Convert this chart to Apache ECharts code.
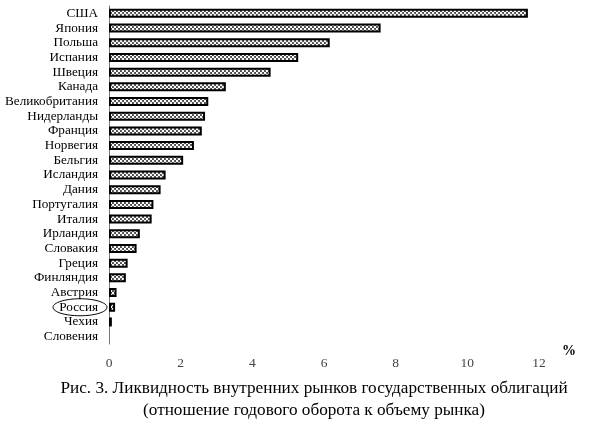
<!DOCTYPE html>
<html>
<head>
<meta charset="utf-8">
<script src="https://cdn.jsdelivr.net/npm/echarts@6/dist/echarts.min.js"></script>
<style>
  html, body { margin: 0; padding: 0; background: #fff; }
  #main { width: 595px; height: 424px; }
</style>
</head>
<body>
<div id="main"></div>
<script>
var countries = ['США', 'Япония', 'Польша', 'Испания', 'Швеция', 'Канада', 'Великобритания',
    'Нидерланды', 'Франция', 'Норвегия', 'Бельгия', 'Исландия', 'Дания', 'Португалия',
    'Италия', 'Ирландия', 'Словакия', 'Греция', 'Финляндия', 'Австрия', 'Россия', 'Чехия', 'Словения'];
var turnover = [11.69, 7.58, 6.16, 5.28, 4.51, 3.26, 2.77, 2.68, 2.59, 2.37, 2.07, 1.58, 1.44,
    1.24, 1.19, 0.86, 0.77, 0.52, 0.47, 0.21, 0.17, 0.08, 0];
var xTicks = [0, 2, 4, 6, 8, 10, 12];
var caption = 'Рис. 3. Ликвидность внутренних рынков государственных облигаций\n(отношение годового оборота к объему рынка)';

// точечная штриховка столбиков
var dots = document.createElement('canvas');
dots.width = 4;
dots.height = 4;
var ctx = dots.getContext('2d');
ctx.fillStyle = '#4a4a4a';
ctx.fillRect(0, 0, 4, 4);
ctx.fillStyle = '#ffffff';
ctx.beginPath();
ctx.arc(1, 1, 1.2, 0, Math.PI * 2);
ctx.fill();
ctx.beginPath();
ctx.arc(3, 3, 1.2, 0, Math.PI * 2);
ctx.fill();

var myChart = echarts.init(document.getElementById('main'));
var serif = '"Liberation Serif", "Times New Roman", serif';

option = {
    animation: false,
    textStyle: {fontFamily: serif},
    title: {
        text: caption,
        left: 309,
        top: 372,
        textAlign: 'center',
        textStyle: {
            fontFamily: serif,
            fontSize: 17.2,
            fontWeight: 'normal',
            color: '#000',
            lineHeight: 22
        }
    },
    grid: {
        left: 109,
        right: 56,
        top: 6,
        bottom: 80
    },
    xAxis: {
        type: 'value',
        min: xTicks[0],
        max: xTicks[xTicks.length - 1],
        interval: 2,
        name: '%',
        nameLocation: 'end',
        nameGap: 23,
        nameTextStyle: {
            fontFamily: serif,
            fontSize: 14,
            fontWeight: 'bold',
            color: '#000',
            verticalAlign: 'top',
            lineHeight: 14
        },
        splitLine: {show: false},
        axisLine: {lineStyle: {color: '#777', width: 1}},
        axisTick: {length: 4, lineStyle: {color: '#777'}},
        axisLabel: {
            margin: 12,
            fontSize: 13.5,
            color: '#444',
            fontFamily: serif
        }
    },
    yAxis: {
        type: 'category',
        inverse: true,
        data: countries,
        axisLine: {lineStyle: {color: '#777', width: 1}},
        axisTick: {length: 3, lineStyle: {color: '#777'}},
        axisLabel: {
            interval: 0,
            margin: 11,
            fontSize: 13.2,
            color: '#000',
            fontFamily: serif
        }
    },
    series: [
        {
            type: 'bar',
            data: turnover.map(function (v) {
                // нулевой столбик без рамки
                return v === 0 ? {value: v, itemStyle: {borderWidth: 0}} : v;
            }),
            barWidth: 9,
            itemStyle: {
                color: {image: dots, repeat: 'repeat'},
                borderColor: '#000',
                borderWidth: 2
            }
        }
    ]
};
myChart.setOption(option);

// овал вокруг подписи "Россия"
var ry = myChart.convertToPixel({yAxisIndex: 0}, 'Россия');
myChart.setOption({
    graphic: [
        {
            type: 'ellipse',
            shape: {cx: 80, cy: ry, rx: 27, ry: 8.5},
            style: {fill: 'none', stroke: '#000', lineWidth: 1}
        }
    ]
});
</script>
</body>
</html>
